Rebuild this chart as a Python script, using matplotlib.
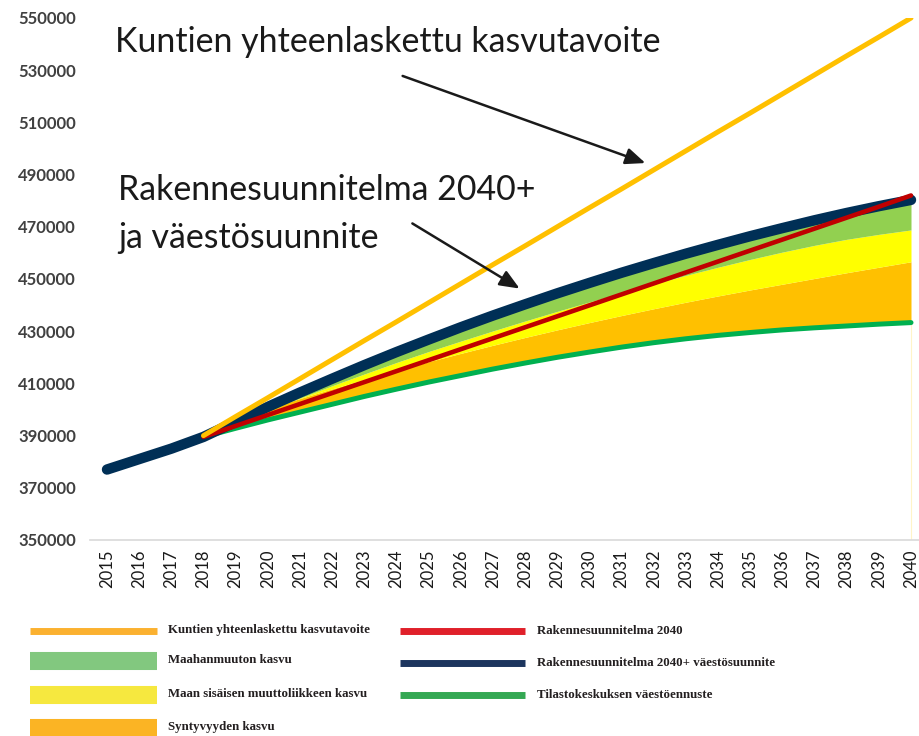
import numpy as np
import matplotlib.pyplot as plt

# --------------------------
# data
# --------------------------
years = list(range(2015, 2041))
years_fc = list(range(2018, 2041))

# Rakennesuunnitelma 2040+ väestösuunnite (navy, 2015-2040)
vaesto_suunnite = [377000, 381000, 385000, 389500, 395300, 401000, 406500, 411800,
                   417000, 422000, 426800, 431500, 436000, 440300, 444500, 448500,
                   452400, 456100, 459700, 463100, 466400, 469500, 472500, 475300,
                   477900, 480300]

# 2018-2040 series
kasvutavoite = [390000, 397300, 404500, 411800, 419100, 426400, 433600, 440900,
                448200, 455500, 462700, 470000, 477300, 484500, 491800, 499100,
                506400, 513600, 520900, 528200, 535500, 542700, 550000]
tilastokeskus = [389500, 392800, 396000, 399000, 402000, 405000, 407800, 410500,
                 413000, 415500, 417800, 420000, 422000, 423900, 425600, 427100,
                 428400, 429500, 430500, 431300, 432000, 432700, 433300]
syntyvyys_top = [389500, 395000, 400400, 404200, 407900, 411500, 415000, 418300,
                 421500, 424600, 427600, 430500, 433300, 436000, 438600, 441100,
                 443500, 445800, 448000, 450200, 452400, 454500, 456600]
sisainen_top = [389500, 394600, 399600, 404400, 409100, 413600, 418000, 422200,
                426200, 430100, 433900, 437600, 441200, 444700, 448100, 451400,
                454500, 457500, 460300, 462900, 465200, 467100, 468800]
rakenne_2040 = [389500, 393700, 397900, 402100, 406300, 410500, 414700, 418900,
                423100, 427300, 431500, 435700, 439900, 444100, 448300, 452500,
                456700, 460900, 465100, 469300, 473500, 477700, 482000]

ytick_vals = list(range(350000, 550001, 20000))

legend_left = ["Kuntien yhteenlaskettu kasvutavoite", "Maahanmuuton kasvu",
               "Maan sisäisen muuttoliikkeen kasvu", "Syntyvyyden kasvu"]
legend_right = ["Rakennesuunnitelma 2040", "Rakennesuunnitelma 2040+ väestösuunnite",
                "Tilastokeskuksen väestöennuste"]

navy_fc = vaesto_suunnite[3:]

# --------------------------
# figure
# --------------------------
fig = plt.figure(figsize=(9.2, 7.36), dpi=100)
ax = fig.add_axes([90 / 920, 1 - 540 / 736, 830 / 920, (540 - 18) / 736])

ax.fill_between(years_fc, tilastokeskus, syntyvyys_top, color="#FFC000", lw=0)
ax.fill_between(years_fc, syntyvyys_top, sisainen_top, color="#FFFF00", lw=0)
ax.fill_between(years_fc, sisainen_top, navy_fc, color="#92D050", lw=0)
ax.plot([2040, 2040], [350000, tilastokeskus[-1]], color="#FFF4C8", lw=0.8)

ax.plot(years_fc, tilastokeskus, color="#00B050", lw=3.6, solid_capstyle="round")
ax.plot(years, vaesto_suunnite, color="#002F56", lw=7.5, solid_capstyle="round")
ax.plot(years_fc, rakenne_2040, color="#C00000", lw=3.3, solid_capstyle="round")
ax.plot(years_fc, kasvutavoite, color="#FFC000", lw=3.6, solid_capstyle="round")

ax.set_xlim(2015 - 17 / 32.16, 2040 + 9 / 32.16)
ax.set_ylim(350000, 550000)
ax.set_xticks(years)
ax.set_xticklabels([str(y) for y in years], rotation=90, fontsize=12,
                   family="Lato", color="#1a1a1a")
ax.set_yticks(ytick_vals)
ax.set_yticklabels([str(v) for v in ytick_vals], fontsize=12, family="Lato",
                   fontweight="bold", color="#404040")
ax.tick_params(axis="both", length=0)
ax.tick_params(axis="y", pad=10)
ax.tick_params(axis="x", pad=7)
for s in ["left", "right", "top"]:
    ax.spines[s].set_visible(False)
ax.spines["bottom"].set_color("#D9D9D9")
ax.spines["bottom"].set_linewidth(1.2)

# --------------------------
# overlay in pixel coords: annotations + legend
# --------------------------
ov = fig.add_axes([0, 0, 1, 1])
ov.set_xlim(0, 920)
ov.set_ylim(736, 0)
ov.axis("off")

ov.text(115, 42, "Kuntien yhteenlaskettu kasvutavoite", fontsize=24.4, family="Lato",
        color="#1a1a1a", va="center", ha="left")
ov.text(118, 190, "Rakennesuunnitelma 2040+", fontsize=24.4, family="Lato",
        color="#1a1a1a", va="center", ha="left")
ov.text(118, 238, "ja väestösuunnite", fontsize=24.4, family="Lato",
        color="#1a1a1a", va="center", ha="left")
arrow = dict(arrowstyle="-|>,head_length=1.2,head_width=0.5", color="#1a1a1a", lw=1.8)
ov.annotate("", xy=(648, 164), xytext=(400, 75), arrowprops=arrow)
ov.annotate("", xy=(522, 290), xytext=(410, 222), arrowprops=arrow)

# legend
left_style = [("#FBB130", 5), ("#82C87F", 13), ("#F6E83F", 13), ("#FBB424", 13)]
left_y = [631, 661, 695, 728]
for lab, (c, w), y in zip(legend_left, left_style, left_y):
    ov.plot([30, 157], [y, y], color=c, lw=w, solid_capstyle="butt")
    ov.text(168, y - 1, lab, fontsize=9.3, family="Liberation Serif",
            fontweight="bold", color="#231F20", va="center", ha="left")

right_style = ["#E0202A", "#1C355E", "#34A853"]
right_y = [631, 663, 695]
for lab, c, y in zip(legend_right, right_style, right_y):
    ov.plot([400, 525], [y, y], color=c, lw=5, solid_capstyle="butt")
    ov.text(537, y, lab, fontsize=9.3, family="Liberation Serif",
            fontweight="bold", color="#231F20", va="center", ha="left")

fig.savefig("out.png", dpi=100)
